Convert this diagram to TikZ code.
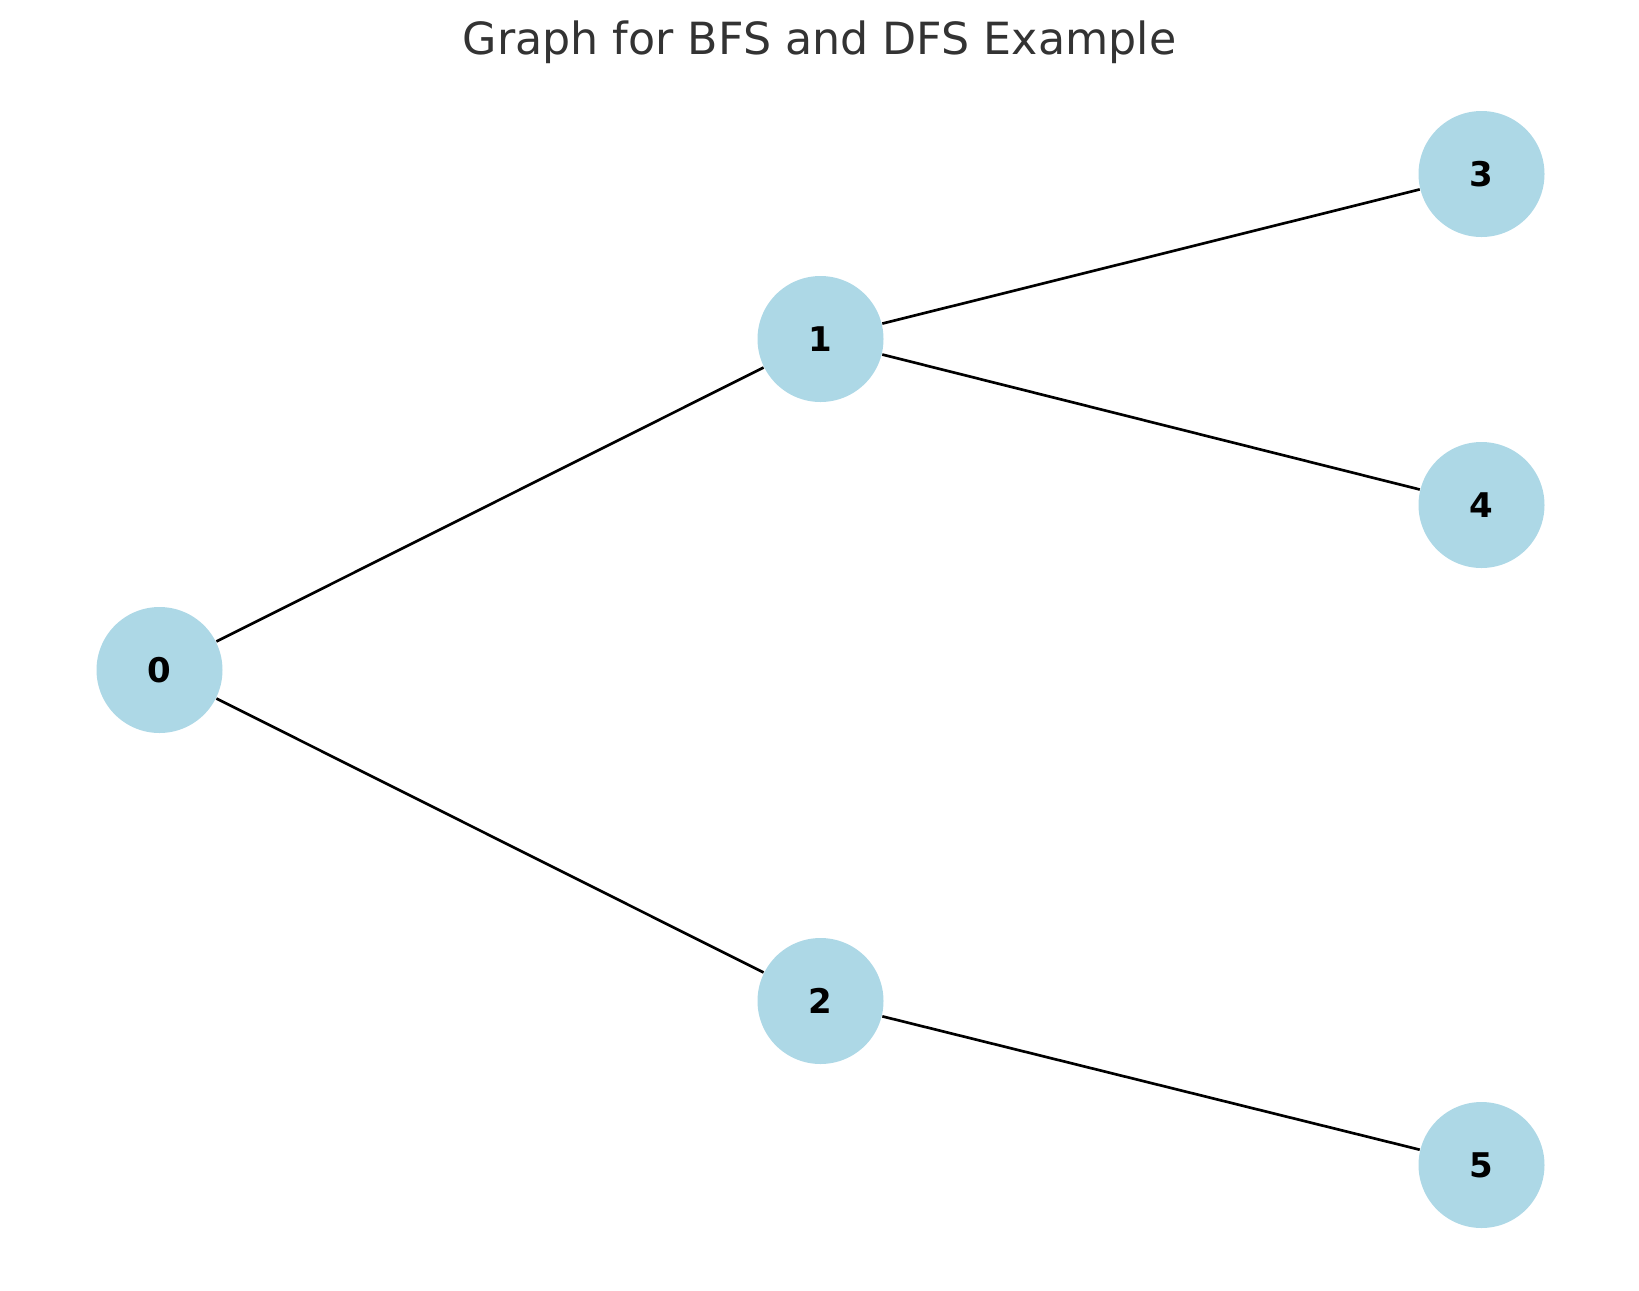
\documentclass[tikz,border=0pt]{standalone}
\usepackage{fontspec}
\setmainfont{DejaVu Sans}
\usepackage{xcolor}
\definecolor{nodeblue}{HTML}{ADD8E6}
\definecolor{titlegray}{HTML}{333333}

\begin{document}
\begin{tikzpicture}[x=0.3pt,y=-0.3pt,
		vertex/.style={circle,fill=nodeblue,minimum size=37.8pt,inner sep=0pt,font=\fontsize{10.2}{12}\selectfont\bfseries,text=black},
		edge/.style={draw=black,line width=0.8pt}]
	\useasboundingbox (0,0) rectangle (1639,1290);
	\node (title)[anchor=base,text=titlegray,font=\fontsize{13.3}{16}\selectfont] at (819.5,54) {Graph for BFS and DFS Example};
	\node (n0)[vertex] at (159.5,670) {0};
	\node (n1)[vertex] at (820.5,339) {1};
	\node (n2)[vertex] at (820.5,1001) {2};
	\node (n3)[vertex] at (1481.5,174) {3};
	\node (n4)[vertex] at (1481.5,505) {4};
	\node (n5)[vertex] at (1481.5,1165) {5};
	\draw[edge] (n0) -- (n1);
	\draw[edge] (n0) -- (n2);
	\draw[edge] (n1) -- (n3);
	\draw[edge] (n1) -- (n4);
	\draw[edge] (n2) -- (n5);
\end{tikzpicture}
\end{document}
